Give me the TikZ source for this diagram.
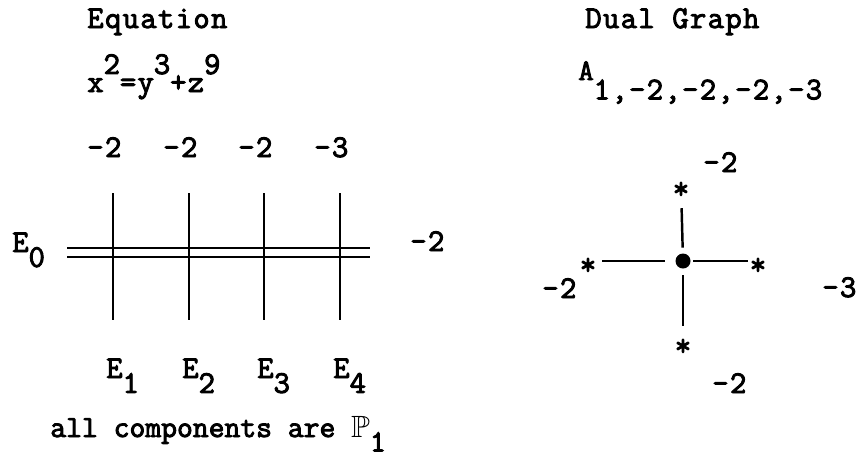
\documentclass[tikz,border=0pt]{standalone}
\usepackage{fontspec}
\usepackage{amssymb}
\usepackage{tikz}
\setmainfont{Latin Modern Mono}[FakeBold=3,LetterSpace=4.4]
\newfontfamily\notefont{Latin Modern Mono}[FakeBold=3]
\newcommand{\raisedig}[1]{\raisebox{0.57em}{#1}}
\newcommand{\lowdig}[1]{\raisebox{-0.47em}{#1}}
\newcommand{\astglyph}{\raisebox{-0.43em}[0pt][0pt]{*}}

\begin{document}
\begin{tikzpicture}[x=0.02cm,y=-0.02cm,font=\fontsize{18}{21}\selectfont,
    lbl/.style={inner sep=0pt,anchor=base west},
    curve/.style={line width=1.4pt},
    vertex/.style={circle,fill,inner sep=0pt,minimum size=0.3cm},
    ast/.style={inner sep=0pt},
    bond/.style={line width=1.4pt}]
  \useasboundingbox (0,0) rectangle (859,458);
  % left: the resolution
  \node[lbl] (eq) at (87,28) {Equation};
  \node[lbl] (poly) at (87,92) {x\raisedig{2}=y\raisedig{3}+z\raisedig{9}};
  \draw[curve] (67,248) -- (370,248);
  \draw[curve] (67,257) -- (370,257);
  \node[lbl] (E0) at (12,252) {E\lowdig{0}};
  \node[lbl] (w0) at (410,251) {-2};
  \foreach \x/\i/\n in {113/1/2,189/2/2,264/3/2,340/4/3} {
    \draw[curve] (\x,193) -- (\x,320);
    \node[lbl] (w\i) at (\x-26,157) {-\n};
    \node[lbl] (E\i) at (\x-7,378) {E\lowdig{\i}};
  }
  \node[lbl,font=\notefont\fontsize{17.5}{20}\selectfont] (note) at (50,437)
    {all components are $\mathbb{P}$\lowdig{1}};
  % right: the dual graph
  \node[lbl] (dg) at (585,28) {Dual Graph};
  \node[lbl] (typ) at (578,80)
    {{\fontsize{17}{19}\selectfont A}\raisebox{-11pt}{1,-2,-2,-2,-3}};
  \node[vertex] (c) at (683,261) {};
  \node[ast] (nt) at (681,185) {\astglyph};
  \node[ast] (nb) at (683,342) {\astglyph};
  \node[ast] (nl) at (588,261) {\astglyph};
  \node[ast] (nr) at (758,261) {\astglyph};
  \draw[bond,shorten <=0.11cm,shorten >=0.44cm] (c) -- (nt);
  \draw[bond,shorten <=0.13cm,shorten >=0.3cm] (c) -- (nb);
  \draw[bond,shorten <=0.21cm,shorten >=0.1cm] (c) -- (nl);
  \draw[bond,shorten <=0.05cm,shorten >=0.04cm] (c) -- (nr);
  \node[lbl] (wt) at (703,172) {-2};
  \node[lbl] (wl) at (542,298) {-2};
  \node[lbl] (wr) at (822,297) {-3};
  \node[lbl] (wb) at (712,393) {-2};
\end{tikzpicture}
\end{document}
